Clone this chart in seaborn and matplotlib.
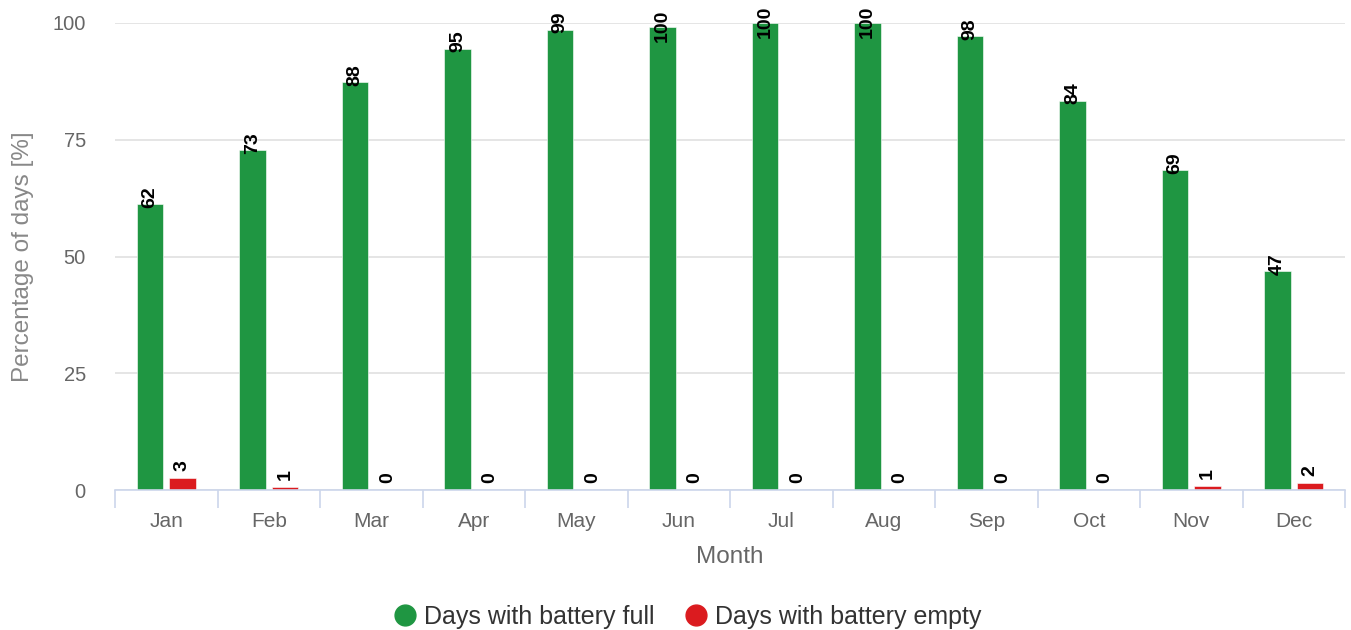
import matplotlib
matplotlib.use("Agg")
import matplotlib.pyplot as plt
from matplotlib.lines import Line2D
import seaborn as sns
import pandas as pd
import numpy as np

months = ["Jan", "Feb", "Mar", "Apr", "May", "Jun", "Jul", "Aug", "Sep", "Oct", "Nov", "Dec"]
series_names = ["Days with battery full", "Days with battery empty"]
full_values = [61.3, 72.8, 87.3, 94.5, 98.6, 99.1, 100, 100, 97.2, 83.4, 68.5, 46.9]
empty_values = [2.6, 0.6, 0, 0, 0, 0, 0, 0, 0, 0, 0.9, 1.4]
full_labels = [62, 73, 88, 95, 99, 100, 100, 100, 98, 84, 69, 47]
empty_labels = [3, 1, 0, 0, 0, 0, 0, 0, 0, 0, 1, 2]
colors = ["#1f9642", "#db1b1f"]

df = pd.DataFrame({
    "Month": months * 2,
    "Series": [series_names[0]] * 12 + [series_names[1]] * 12,
    "Value": full_values + empty_values,
})

sns.set_theme(style="white")
plt.rcParams["font.family"] = ["Liberation Sans", "DejaVu Sans"]

W, H, DPI = 1351, 630, 100
fig = plt.figure(figsize=(W / DPI, H / DPI), dpi=DPI)
ax_left, ax_right, ax_top, ax_bottom = 115, 1345, 23, 490
ax = fig.add_axes([ax_left / W, 1 - ax_bottom / H, (ax_right - ax_left) / W, (ax_bottom - ax_top) / H])

sns.barplot(data=df, x="Month", y="Value", hue="Series", order=months,
            hue_order=series_names, palette=colors, width=0.63, gap=0.18,
            saturation=1, edgecolor="white", linewidth=0.4, legend=False, ax=ax)

ax.set_ylim(0, 100)
ax.set_xlim(-0.5, 11.5)
ax.set_yticks([0, 25, 50, 75, 100])
ax.grid(axis="y", color="#e0e0e0", linewidth=1.2)
ax.set_axisbelow(True)
for s in ["left", "right", "top"]:
    ax.spines[s].set_visible(False)
ax.spines["bottom"].set_color("#ccd6eb")
ax.spines["bottom"].set_linewidth(1.2)

ax.tick_params(axis="y", length=0, pad=21, labelsize=14.5, labelcolor="#666666")
ax.tick_params(axis="x", which="major", bottom=False, length=0, pad=16, labelsize=15,
               labelcolor="#666666")
ax.set_xticks(np.arange(-0.5, 12, 1), minor=True)
ax.tick_params(axis="x", which="minor", bottom=True, length=13, width=1.2,
               color="#ccd6eb", direction="out")

ax.set_xlabel("Month", fontsize=17.5, color="#666666")
ax.xaxis.set_label_coords(0.5, -0.12)
ax.set_ylabel("Percentage of days [%]", fontsize=17.5, color="#888888")
ax.yaxis.set_label_coords(-0.066, 0.5)

# data labels
for container, labels in zip(ax.containers, [full_labels, empty_labels]):
    for bar, lab in zip(container, labels):
        n = len(str(lab))
        off_px = 18 - 5.5 * n
        ax.annotate(str(lab), (bar.get_x() + bar.get_width() / 2, bar.get_height()),
                    xytext=(0, off_px * 72 / DPI), textcoords="offset points",
                    rotation=90, ha="center", va="center", fontsize=14,
                    fontweight="bold", color="black", annotation_clip=False)

handles = [Line2D([0], [0], marker="o", linestyle="", markersize=15,
                  markerfacecolor=c, markeredgecolor=c) for c in colors]
fig.legend(handles, series_names, loc="center", bbox_to_anchor=(0.507, 1 - 617 / H),
           ncol=2, frameon=False, fontsize=18, labelcolor="#333333",
           handletextpad=0.1, columnspacing=1.0, handlelength=1.3)

fig.savefig("out.png", dpi=DPI)
